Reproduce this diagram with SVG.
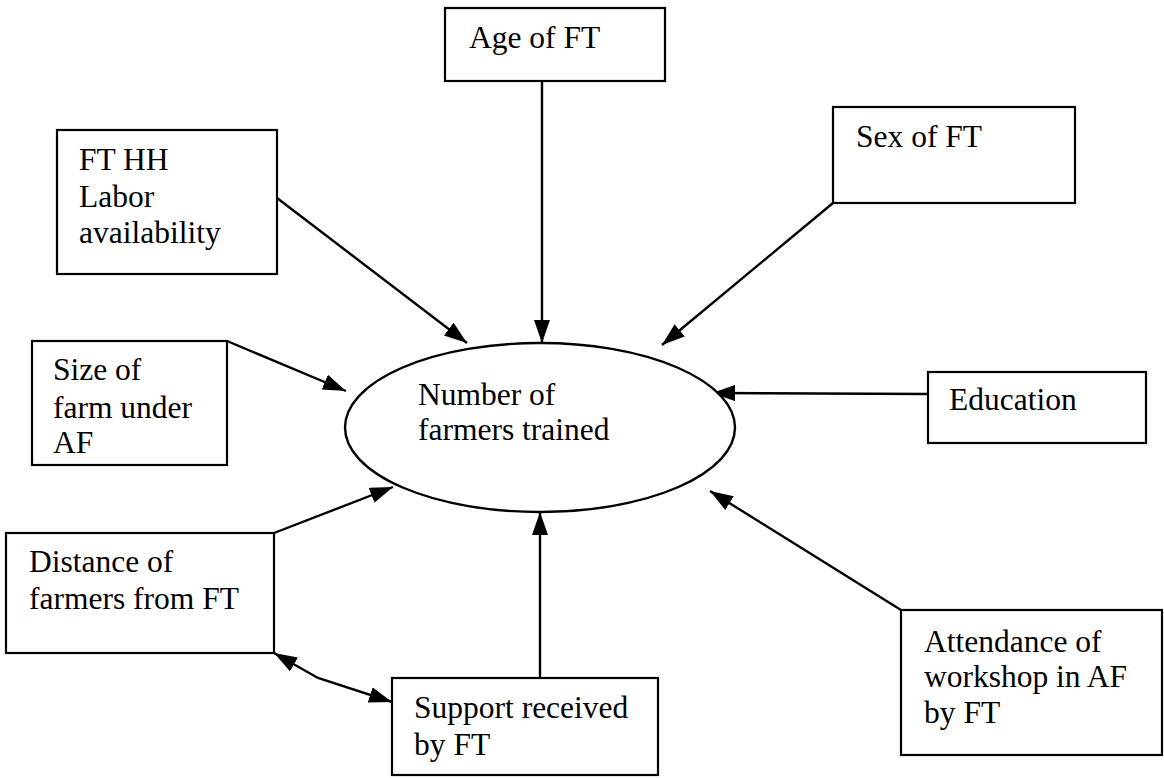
<svg xmlns="http://www.w3.org/2000/svg" width="1164" height="778" viewBox="0 0 1164 778">
<style>
  .box { fill: #fff; stroke: #000; stroke-width: 2.2; }
  .oval { fill: #fff; stroke: #000; stroke-width: 2.4; }
  .t { font-family: 'Liberation Serif', 'Times New Roman', Times, 'DejaVu Serif', serif; font-size: 31.5px; fill: #000; }
  .c { fill: none; stroke: #000; stroke-width: 2.4; }
</style>
<defs>
  <marker id="ah" markerUnits="userSpaceOnUse" markerWidth="26" markerHeight="18" refX="23" refY="8" orient="auto-start-reverse">
    <path d="M0,0 L23,8 L0,16 z" fill="#000"/>
  </marker>
</defs>
<rect width="1164" height="778" fill="#fff"/>

<g id="connectors">
  <line class="c" x1="542" y1="81" x2="542" y2="343" marker-end="url(#ah)"/>
  <line class="c" x1="277" y1="198" x2="467" y2="343" marker-end="url(#ah)"/>
  <line class="c" x1="833" y1="203" x2="662" y2="345" marker-end="url(#ah)"/>
  <line class="c" x1="227" y1="341" x2="346" y2="391" marker-end="url(#ah)"/>
  <line class="c" x1="928" y1="394" x2="712" y2="393" marker-end="url(#ah)"/>
  <line class="c" x1="274" y1="533" x2="393" y2="487" marker-end="url(#ah)"/>
  <line class="c" x1="540" y1="678" x2="540" y2="512" marker-end="url(#ah)"/>
  <line class="c" x1="901" y1="610" x2="710" y2="491" marker-end="url(#ah)"/>
  <polyline class="c" points="274,653 318,678 392,702" marker-start="url(#ah)" marker-end="url(#ah)"/>
</g>

<g id="center">
  <ellipse class="oval" cx="540" cy="427.5" rx="195" ry="84.5"/>
  <text class="t" x="418" y="405">Number of</text>
  <text class="t" x="418" y="440">farmers trained</text>
</g>

<g id="age">
  <rect class="box" x="445" y="8" width="220" height="73"/>
  <text class="t" x="469" y="48">Age of FT</text>
</g>

<g id="labor">
  <rect class="box" x="57" y="130" width="220" height="144"/>
  <text class="t" x="79" y="170">FT HH</text>
  <text class="t" x="79" y="207">Labor</text>
  <text class="t" x="79" y="243">availability</text>
</g>

<g id="sex">
  <rect class="box" x="833" y="107" width="242" height="96"/>
  <text class="t" x="856" y="147">Sex of FT</text>
</g>

<g id="size">
  <rect class="box" x="32" y="341" width="195" height="124"/>
  <text class="t" x="53" y="380">Size of</text>
  <text class="t" x="53" y="418">farm under</text>
  <text class="t" x="53" y="453">AF</text>
</g>

<g id="education">
  <rect class="box" x="928" y="372" width="218" height="71"/>
  <text class="t" x="949" y="410">Education</text>
</g>

<g id="distance">
  <rect class="box" x="6" y="533" width="268" height="120"/>
  <text class="t" x="29" y="572">Distance of</text>
  <text class="t" x="29" y="609">farmers from FT</text>
</g>

<g id="support">
  <rect class="box" x="392" y="678" width="266" height="97"/>
  <text class="t" x="414" y="718">Support received</text>
  <text class="t" x="414" y="755">by FT</text>
</g>

<g id="attendance">
  <rect class="box" x="901" y="610" width="261" height="145"/>
  <text class="t" x="924" y="652">Attendance of</text>
  <text class="t" x="924" y="687">workshop in AF</text>
  <text class="t" x="924" y="723">by FT</text>
</g>
</svg>
